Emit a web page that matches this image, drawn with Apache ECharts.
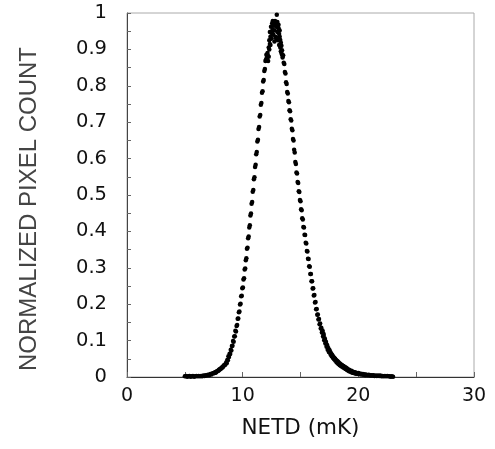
<!DOCTYPE html>
<html>
<head>
<meta charset="utf-8">
<script src="https://cdn.jsdelivr.net/npm/echarts@6/dist/echarts.min.js"></script>
<style>
html,body{margin:0;padding:0;background:#fff;}
#chart{width:495px;height:449px;}
</style>
</head>
<body>
<div id="chart"></div>
<script>
// Axis ticks
const xTicks = [0, 10, 20, 30];
const yTicks = [0, 0.1, 0.2, 0.3, 0.4, 0.5, 0.6, 0.7, 0.8, 0.9, 1];

// Left tail
const netdLeftTail = [5.0,5.1,5.2,5.3,5.4,5.5,5.6,5.7,5.8,5.9,6.0,6.1,6.2,6.3,6.4,6.5,6.6,6.7,6.8,6.9,7.0,7.1,7.2,7.3,7.4,7.5,
  7.55,7.6,7.65,7.7,7.75,7.8,7.85,7.9,7.95,8.0,8.05,8.1,8.15,8.2,8.25,8.3,8.35,8.4,8.45,8.5];
const countLeftTail = [0.002,0.003,0.001,0.002,0.003,0.001,0.002,0.003,0.001,0.002,0.003,0.002,0.003,0.002,0.003,0.002,0.004,0.003,0.005,0.004,0.006,0.005,0.008,0.007,0.010,0.010,
  0.011,0.013,0.012,0.013,0.015,0.016,0.017,0.017,0.019,0.021,0.021,0.022,0.025,0.026,0.026,0.028,0.031,0.032,0.033,0.034];

// Left flank
const netdLeftFlank = [8.57,8.62,8.67,8.72,8.77,8.82,8.87,8.92,8.97,9.02,
  9.07,9.12,9.17,9.22,9.27,9.32,9.37,9.42,9.47,9.52,
  9.57,9.62,9.67,9.72,9.77,9.82,9.87,9.92,9.97,10.02,
  10.07,10.12,10.17,10.22,10.27,10.32,10.37,10.42,10.47,10.52,
  10.57,10.62,10.67,10.72,10.77,10.82,10.87,10.92,10.97,11.02,
  11.07,11.12,11.17,11.22,11.27,11.32,11.37,11.42,11.47,11.52,
  11.57,11.62,11.67,11.72,11.77,11.82,11.87,11.92,11.97,12.02];
const countLeftFlank = [0.040,0.038,0.047,0.046,0.057,0.055,0.064,0.063,0.075,0.073,
  0.085,0.086,0.099,0.097,0.111,0.112,0.127,0.125,0.140,0.143,
  0.160,0.161,0.178,0.180,0.199,0.201,0.222,0.223,0.244,0.246,
  0.268,0.271,0.295,0.298,0.321,0.326,0.352,0.355,0.381,0.386,
  0.411,0.417,0.444,0.449,0.476,0.481,0.509,0.514,0.543,0.549,
  0.577,0.583,0.612,0.618,0.647,0.652,0.681,0.687,0.716,0.720,
  0.748,0.753,0.781,0.785,0.812,0.816,0.841,0.846,0.868,0.872];

// Peak cluster
const netdPeak = [12.05,12.10,12.15,12.20,12.25,12.30,12.35,12.40,12.45,12.50,12.55,12.60,12.65,12.70,12.75,
  12.80,12.85,12.90,12.95,13.00,13.05,13.10,13.15,13.20,13.25,13.30,13.35,13.40,13.45,
  12.45,12.60,12.75,12.90,13.00,13.15,12.35,13.30,12.20,12.55,13.05,
  13.10,13.20,13.25,13.35,12.30,12.40,12.50,12.65,12.85,13.12,12.25,13.40];
const countPeak = [0.885,0.878,0.890,0.882,0.905,0.925,0.948,0.935,0.962,0.945,0.972,0.955,0.940,0.968,0.952,
  0.978,0.935,0.962,0.995,0.948,0.925,0.958,0.912,0.935,0.905,0.918,0.890,0.898,0.878,
  0.930,0.978,0.922,0.930,0.975,0.942,0.915,0.895,0.868,0.950,0.960,
  0.968,0.952,0.926,0.910,0.900,0.912,0.930,0.965,0.972,0.932,0.880,0.885];

// Right flank
const netdRightFlank = [13.50,13.55,13.60,13.65,13.70,13.75,13.80,13.85,13.90,13.95,
  14.00,14.05,14.10,14.15,14.20,14.25,14.30,14.35,14.40,14.45,
  14.50,14.55,14.60,14.65,14.70,14.75,14.80,14.85,14.90,14.95,
  15.00,15.05,15.10,15.15,15.20,15.25,15.30,15.35,15.40,15.45,
  15.50,15.55,15.60,15.65,15.70,15.75,15.80,15.85,15.90,15.95,
  16.00,16.05,16.10,16.15,16.20,16.25,16.30,16.35,16.40,16.45,
  16.50,16.55,16.60,16.65,16.70,16.75,16.80,16.85,16.90,16.95,
  17.00,17.05,17.10,17.15,17.20,17.25,17.30,17.35,17.40,17.45,17.50];
const countRightFlank = [0.884,0.863,0.860,0.838,0.834,0.810,0.805,0.783,0.779,0.758,
  0.755,0.733,0.730,0.708,0.705,0.682,0.678,0.654,0.650,0.624,
  0.617,0.591,0.585,0.562,0.559,0.536,0.533,0.510,0.508,0.486,
  0.483,0.461,0.458,0.436,0.433,0.412,0.411,0.391,0.390,0.369,
  0.367,0.346,0.345,0.325,0.324,0.304,0.303,0.283,0.283,0.263,
  0.263,0.243,0.244,0.224,0.225,0.205,0.206,0.186,0.187,0.171,
  0.172,0.158,0.159,0.145,0.147,0.133,0.135,0.122,0.124,0.111,
  0.113,0.101,0.103,0.092,0.094,0.083,0.086,0.075,0.077,0.069,0.072];

// Right tail
const netdRightTail = [17.55,17.60,17.65,17.70,17.75,17.80,17.85,17.90,17.95,18.00,
  18.05,18.10,18.15,18.20,18.25,18.30,18.35,18.40,18.45,18.50,
  18.55,18.60,18.65,18.70,18.75,18.80,18.85,18.90,18.95,19.00,
  19.05,19.10,19.15,19.20,19.25,19.30,19.35,19.40,19.45,19.50,
  19.55,19.60,19.65,19.70,19.75,19.80,19.85,19.90,19.95,20.00,
  20.1,20.2,20.3,20.4,20.5,20.6,20.7,20.8,20.9,21.0,
  21.1,21.2,21.3,21.4,21.5,21.6,21.7,21.8,21.9,22.0,
  22.1,22.2,22.3,22.4,22.5,22.6,22.7,22.8,22.9,23.0];
const countRightTail = [0.068,0.062,0.064,0.057,0.060,0.053,0.055,0.049,0.051,0.045,
  0.047,0.041,0.044,0.038,0.041,0.035,0.037,0.032,0.035,0.030,
  0.032,0.028,0.030,0.026,0.028,0.024,0.026,0.022,0.024,0.020,
  0.022,0.018,0.020,0.016,0.018,0.015,0.016,0.013,0.015,0.012,
  0.014,0.011,0.013,0.010,0.012,0.009,0.011,0.009,0.010,0.008,
  0.009,0.007,0.008,0.006,0.007,0.005,0.006,0.005,0.006,0.004,
  0.005,0.004,0.005,0.003,0.004,0.003,0.004,0.003,0.004,0.002,
  0.003,0.002,0.003,0.002,0.003,0.002,0.002,0.001,0.002,0.001];

// Upper edge of the scattered right-tail band
const netdRightBand = [16.9,17.0,17.1,17.2,17.3,17.4,17.5,17.6,17.7,17.8,17.9,18.0,18.1,18.2,18.3,
  18.4,18.5,18.6,18.7,18.8,18.9,19.0,19.2,19.4,19.6,19.8,20.0,20.2,20.4,20.6];
const countRightBand = [0.128,0.118,0.106,0.097,0.088,0.080,0.074,0.067,0.062,0.057,0.053,0.050,0.046,0.043,0.040,
  0.037,0.034,0.032,0.030,0.028,0.026,0.024,0.020,0.017,0.014,0.012,0.011,0.009,0.008,0.007];

const xSegments = [netdLeftTail, netdLeftFlank, netdPeak, netdRightFlank, netdRightTail, netdRightBand];
const ySegments = [countLeftTail, countLeftFlank, countPeak, countRightFlank, countRightTail, countRightBand];
const points = [];
xSegments.forEach((xs, s) => xs.forEach((x, i) => points.push([x, ySegments[s][i]])));

const chart = echarts.init(document.getElementById('chart'));
const labelFont = 'DejaVu Sans';
chart.setOption({
  animation: false,
  backgroundColor: '#ffffff',
  grid: {left: 127, right: 21, top: 13, bottom: 72, show: true, borderColor: '#aaaaaa', borderWidth: 1},
  xAxis: {
    type: 'value', min: xTicks[0], max: xTicks[xTicks.length - 1], interval: 5,
    name: 'NETD (mK)', nameLocation: 'middle', nameGap: 40,
    nameTextStyle: {fontFamily: labelFont, fontSize: 21.5, color: '#111'},
    axisLine: {show: true, onZero: false, lineStyle: {color: '#333', width: 1}},
    axisTick: {show: true, inside: true, length: 5, lineStyle: {color: '#666'}},
    axisLabel: {margin: 10, fontFamily: labelFont, fontSize: 19, color: '#111',
      formatter: v => (xTicks.indexOf(v) >= 0 ? String(v) : '')},
    splitLine: {show: false}
  },
  yAxis: {
    type: 'value', min: yTicks[0], max: yTicks[yTicks.length - 1], interval: 0.1,
    name: 'NORMALIZED PIXEL COUNT', nameLocation: 'middle', nameGap: 86, nameRotate: 90,
    nameTextStyle: {fontFamily: 'Liberation Sans', fontSize: 24, color: '#444', padding: [0, 0, 0, -28]},
    axisLine: {show: true, onZero: false, lineStyle: {color: '#444', width: 1}},
    axisTick: {show: true, inside: true, length: 4, lineStyle: {color: '#666'}},
    minorTick: {show: true, splitNumber: 2, length: 4, lineStyle: {color: '#666'}},
    axisLabel: {margin: 20, fontFamily: labelFont, fontSize: 19.5, color: '#111',
      formatter: v => String(Math.round(v * 10) / 10)},
    splitLine: {show: false}
  },
  series: [{
    type: 'scatter',
    data: points,
    symbol: 'circle',
    symbolSize: 4.5,
    itemStyle: {color: '#000000', opacity: 1}
  }]
});
</script>
</body>
</html>
